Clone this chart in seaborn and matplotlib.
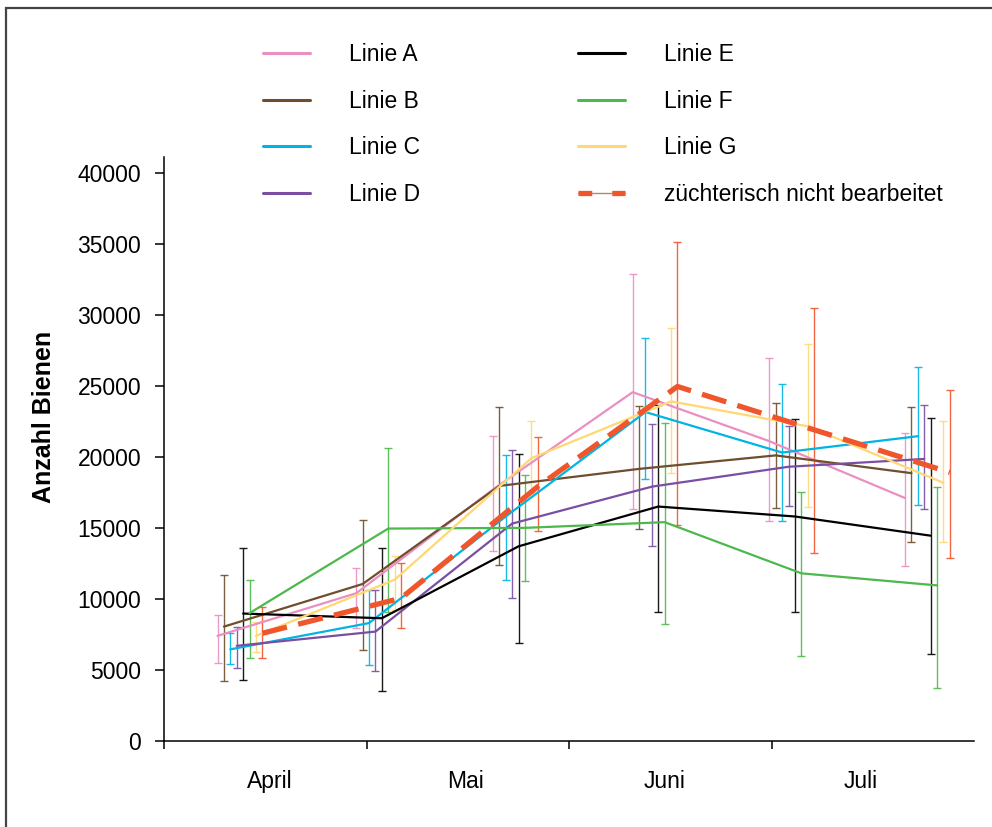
import matplotlib
matplotlib.use("Agg")
import matplotlib.pyplot as plt
import seaborn as sns
import numpy as np
import pandas as pd
from matplotlib.lines import Line2D
from matplotlib.patches import Rectangle
from matplotlib.legend_handler import HandlerTuple

# ---------------- data ----------------
months = ["April", "Mai", "Juni", "Juli"]
# sampling dates, in months since 1 April
sample_month = [0.375, 1.06, 1.735, 2.425, 3.10, 3.77]

series = ["Linie A", "Linie B", "Linie C", "Linie D",
          "Linie E", "Linie F", "Linie G", "züchterisch nicht bearbeitet"]

mean_A = [7400, 10400, 17700, 24550, 21100, 17100]
mean_B = [8050, 11050, 17950, 19150, 20100, 18850]
mean_C = [6450, 8300, 15800, 23150, 20300, 21450]
mean_D = [6700, 7700, 15300, 17900, 19300, 19850]
mean_E = [8970, 8640, 13700, 16500, 15800, 14450]
mean_F = [9000, 14950, 15000, 15400, 11800, 10950]
mean_G = [7400, 11350, 19900, 23900, 22150, 18170]
mean_Z = [7580, 10050, 17900, 24950, 21900, 18900]

upper_A = [8870, 12200, 21500, 32900, 26950, 21700]
upper_B = [11650, 15550, 23500, 23600, 23800, 23500]
upper_C = [7630, 10600, 20100, 28350, 25100, 26350]
upper_D = [8050, 10600, 20450, 22300, 22150, 23650]
upper_E = [13600, 13600, 20200, 23650, 22650, 22750]
upper_F = [11350, 20650, 18750, 22350, 17550, 17850]
upper_G = [8350, 13050, 22500, 29050, 27950, 22550]
upper_Z = [9450, 12500, 21400, 35100, 30450, 24700]

lower_A = [5500, 7950, 13400, 16300, 15450, 12350]
lower_B = [4250, 6400, 12400, 14900, 16400, 14000]
lower_C = [5400, 5350, 11350, 18450, 15500, 16600]
lower_D = [5150, 4950, 10050, 13700, 16550, 16350]
lower_E = [4300, 3550, 6900, 9050, 9100, 6150]
lower_F = [5850, 9100, 11250, 8250, 5950, 3700]
lower_G = [6250, 9250, 17450, 18850, 16500, 14000]
lower_Z = [5850, 7950, 14800, 15200, 13250, 12900]

means = [mean_A, mean_B, mean_C, mean_D, mean_E, mean_F, mean_G, mean_Z]
uppers = [upper_A, upper_B, upper_C, upper_D, upper_E, upper_F, upper_G, upper_Z]
lowers = [lower_A, lower_B, lower_C, lower_D, lower_E, lower_F, lower_G, lower_Z]

colors = ["#EA8FC2", "#6E4E2C", "#00B4E4", "#7A4FA2",
          "#000000", "#4DB84B", "#FFD873", "#F0562C"]

# ---------------- figure ----------------
sns.set_theme(style="white")
plt.rcParams["font.family"] = ["Liberation Sans", "DejaVu Sans"]
plt.rcParams["text.color"] = "black"
plt.rcParams["xtick.color"] = "black"
plt.rcParams["ytick.color"] = "black"
plt.rcParams["axes.labelcolor"] = "black"

fig = plt.figure(figsize=(9.92, 8.27), dpi=100)
ax = fig.add_axes([164 / 992, 1 - 741 / 827, (974 - 164) / 992, (741 - 157) / 827])

dodge = 0.0316
rows = []
for i, name in enumerate(series):
    for j, t in enumerate(sample_month):
        rows.append({"serie": name, "x": t + (i - 3.5) * dodge,
                     "Anzahl": means[i][j], "hi": uppers[i][j], "lo": lowers[i][j]})
df = pd.DataFrame(rows)
palette = dict(zip(series, colors))

# error bars
for name in series:
    d = df[df.serie == name]
    ax.errorbar(d.x, d.Anzahl, yerr=[d.Anzahl - d.lo, d.hi - d.Anzahl],
                fmt="none", ecolor=palette[name], elinewidth=1.0,
                capsize=3.2, capthick=1.0, alpha=0.9, zorder=2)

# lines
solid = df[df.serie != series[-1]]
sns.lineplot(data=solid, x="x", y="Anzahl", hue="serie", palette=palette,
             linewidth=1.6, ax=ax, legend=False, sort=False, zorder=3)
red = df[df.serie == series[-1]]
sns.lineplot(data=red, x="x", y="Anzahl", color=palette[series[-1]],
             linewidth=3.8, linestyle=(0, (4.8, 2.2)), ax=ax, legend=False,
             sort=False, zorder=4)

# axes styling
ax.set_xlim(0, 4.0)
ax.set_ylim(0, 41100)
ax.set_yticks(np.arange(0, 40001, 5000))
ax.set_yticklabels([str(v) for v in range(0, 40001, 5000)])
ax.set_xticks([0, 1, 2, 3])
ax.set_xticklabels([])
ax.set_xticks([0.52, 1.49, 2.47, 3.44], minor=True)
ax.set_xticklabels(months, minor=True)
ax.tick_params(axis="x", which="major", direction="out", length=6, width=1.1,
               color="black", bottom=True)
ax.tick_params(axis="x", which="minor", length=0, pad=21, labelsize=16.5,
               bottom=True, labelcolor="black")
ax.tick_params(axis="y", direction="out", length=6.5, width=1.1, color="black",
               pad=10, labelsize=16.5, left=True, labelcolor="black")
for s in ["top", "right"]:
    ax.spines[s].set_visible(False)
for s in ["left", "bottom"]:
    ax.spines[s].set_color("black")
    ax.spines[s].set_linewidth(1.1)
ax.set_xlabel("")
ax.set_ylabel("")
ax.grid(False)

fig.text(44 / 992, 1 - 417 / 827, "Anzahl Bienen", rotation=90, ha="center",
         va="center", fontsize=18, fontweight="bold", color="black")

# legend
handles = []
for name, c in zip(series[:-1], colors[:-1]):
    handles.append(Line2D([], [], color=c, linewidth=2.2))
thin = Line2D([], [], color="#B08A70", linewidth=1.0)
dash = Line2D([], [], color=colors[-1], linewidth=3.8, linestyle=(0, (2.6, 3.8)))
handles.append((thin, dash))
leg = fig.legend(handles, series, loc="upper left",
                 bbox_to_anchor=(263 / 992, 1 - 43 / 827), ncol=2, frameon=False,
                 fontsize=16.5, handlelength=2.05, handletextpad=1.7,
                 columnspacing=6.88, labelspacing=1.03, borderpad=0, borderaxespad=0,
                 handler_map={tuple: HandlerTuple(ndivide=1)})
for t in leg.get_texts():
    t.set_color("black")

# figure frame
fig.add_artist(Rectangle((6 / 992, -0.05), 1.2, 1 - 8 / 827 + 0.05,
                         transform=fig.transFigure, fill=False,
                         edgecolor="#444444", linewidth=1.6))

fig.savefig("out.png", dpi=100)
